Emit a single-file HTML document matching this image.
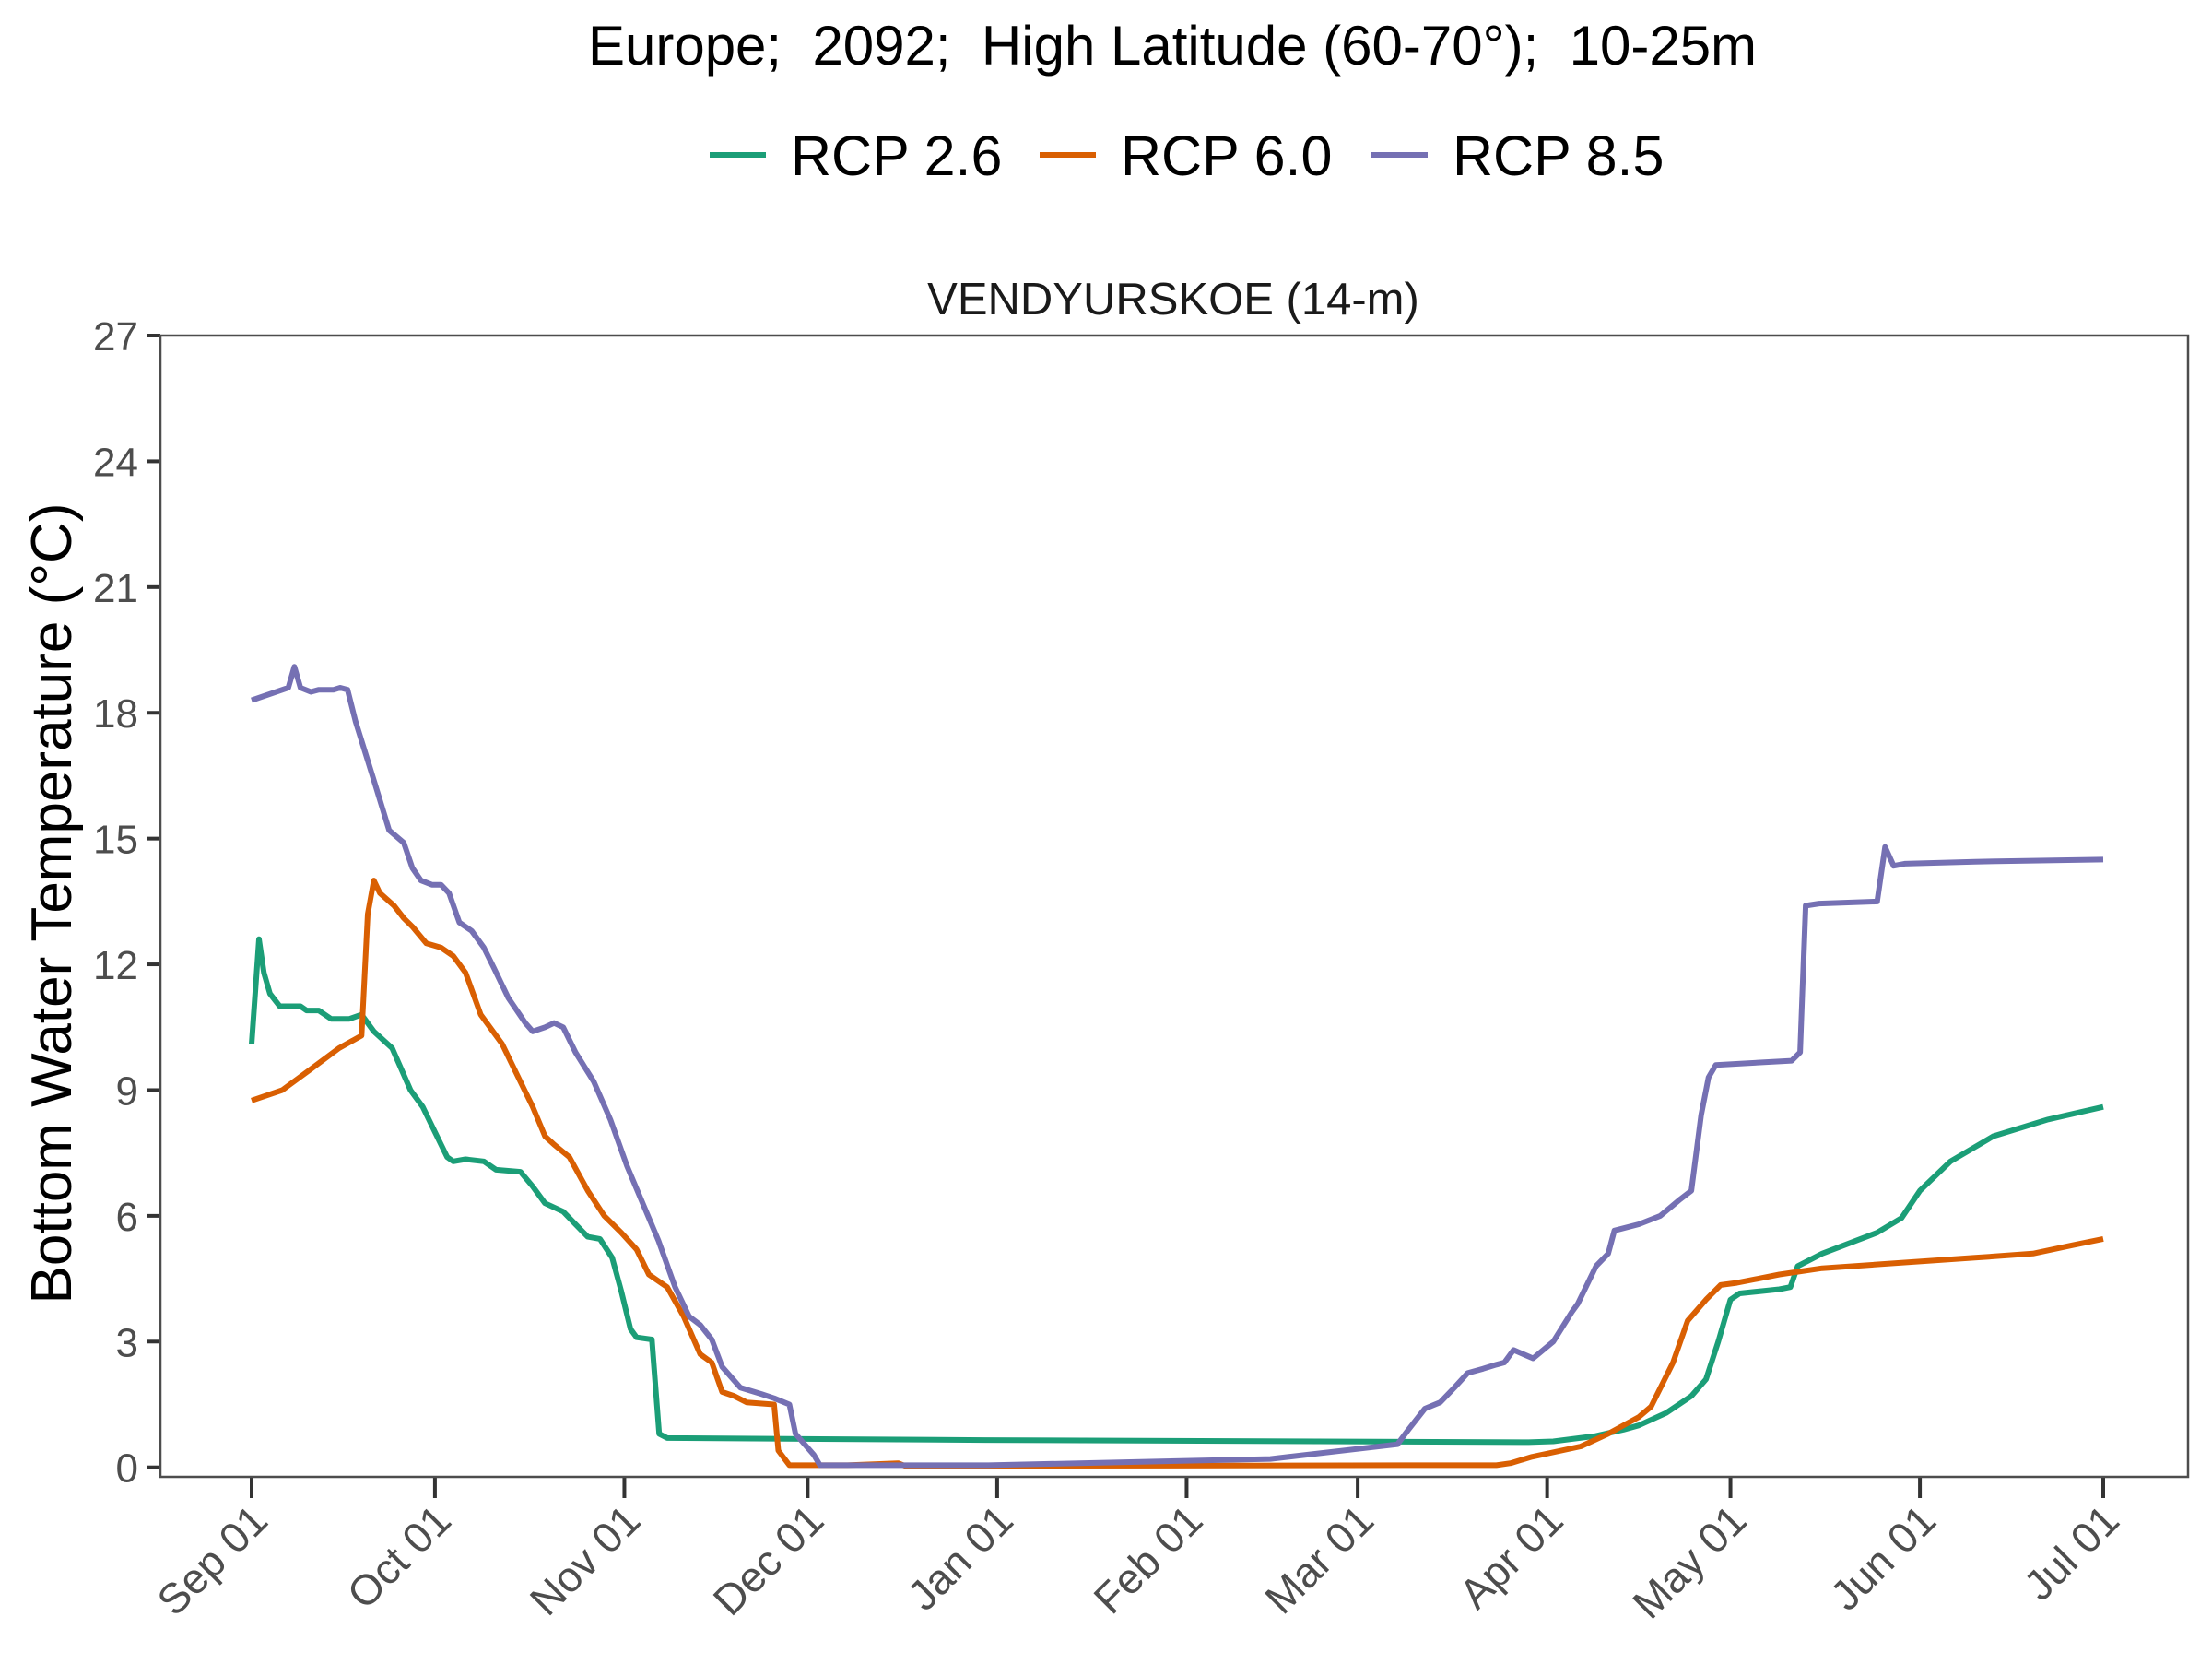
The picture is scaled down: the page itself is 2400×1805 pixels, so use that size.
<!DOCTYPE html>
<html><head><meta charset="utf-8"><style>
html,body{margin:0;padding:0;background:#fff;}
svg text{font-family:"Liberation Sans",Arial,sans-serif;white-space:pre;}
</style></head><body>
<svg id="chart" width="2400" height="1800" viewBox="0 0 2400 1800" xmlns="http://www.w3.org/2000/svg">
<rect width="2400" height="1800" fill="#fff"/>
<text x="1272" y="70" font-size="60" text-anchor="middle" fill="#000" xml:space="preserve">Europe;  2092;  High Latitude (60-70°);  10-25m</text>
<g>
  <g><line x1="770" y1="168" x2="831" y2="168" stroke="#1B9E77" stroke-width="6"/><text x="858" y="190" font-size="61" fill="#000">RCP 2.6</text></g>
  <g><line x1="1128" y1="168" x2="1189" y2="168" stroke="#D95F02" stroke-width="6"/><text x="1216" y="190" font-size="61" fill="#000">RCP 6.0</text></g>
  <g><line x1="1488" y1="168" x2="1549" y2="168" stroke="#7570B3" stroke-width="6"/><text x="1576" y="190" font-size="61" fill="#000">RCP 8.5</text></g>
</g>
<text x="1273" y="341" font-size="49" text-anchor="middle" fill="#1a1a1a">VENDYURSKOE (14-m)</text>
<text transform="translate(77,980) rotate(-90)" font-size="62" text-anchor="middle" fill="#000">Bottom Water Temperature (°C)</text>
<g id="axes"></g>
<g id="series"></g>
<rect x="174" y="364" width="2200" height="1238" fill="none" stroke="#4d4d4d" stroke-width="2.5"/>
</svg>
<script>
const xTickLabels = ["Sep 01","Oct 01","Nov 01","Dec 01","Jan 01","Feb 01","Mar 01","Apr 01","May 01","Jun 01","Jul 01"];
const xTickDays = [0,30,61,91,122,153,181,212,242,273,303];
const yTicks = [0,3,6,9,12,15,18,21,24,27];

const rcp26Days = [0,1.2,2,3,4.6,8,9,11,13,16,18,20,23,26,28,30,32,33,35,38,40,44,46,48,51,53,55,57,59,60.5,62,63,65.5,66.7,68,120,209,213,220,224.5,227,231.5,235.6,238,240,242,243.5,250,251.8,253,257,266,270,273,278,285,294,303];
const rcp26Vals = [10.1,12.6,11.8,11.3,11.0,11.0,10.9,10.9,10.7,10.7,10.8,10.4,10.0,9.0,8.6,8.0,7.4,7.3,7.35,7.3,7.1,7.05,6.7,6.3,6.1,5.8,5.5,5.45,5.0,4.2,3.3,3.1,3.05,0.8,0.7,0.65,0.6,0.62,0.75,0.9,1.0,1.3,1.7,2.1,3.0,4.0,4.15,4.25,4.3,4.8,5.1,5.6,5.95,6.6,7.3,7.9,8.3,8.6];

const rcp60Days = [0,5,9.7,14.3,18,19,20,21,23.3,24.9,26.3,28.6,31,33,35,37.5,41,44,46,48,49.5,52,55,57.7,60.5,63,65,68,70.7,73.4,75.3,77,79,81,85.5,86.2,88,97.5,105.8,107,190,203.7,206,209.5,217.5,222,227,229,232.6,235,238,240.4,243,250,257,282,291.5,298,303];
const rcp60Vals = [8.75,9.0,9.5,10.0,10.3,13.2,14.0,13.7,13.4,13.1,12.9,12.5,12.4,12.2,11.8,10.8,10.1,9.2,8.6,7.9,7.7,7.4,6.6,6.0,5.6,5.2,4.6,4.3,3.6,2.7,2.5,1.8,1.7,1.55,1.5,0.4,0.05,0.05,0.1,0.03,0.05,0.05,0.1,0.25,0.5,0.8,1.2,1.45,2.5,3.5,4.0,4.35,4.4,4.6,4.75,5.0,5.1,5.3,5.45];

const rcp85Days = [0,6,7,8,9.7,11,13.4,14.5,15.7,17,20.2,22.5,24.9,26.3,27.7,29.5,31,32.3,34,36,38,39.7,42,44.8,46,48,49.5,51,53,56,58.7,61.4,64,66.6,69.3,71.6,73.4,75.3,77,80,83.4,85.5,88,89,90.5,92,93,120.6,166.7,187.5,189.3,192,194.5,196.8,199,201.5,203.7,205,206.5,209.7,213,216,217,220,222,223,227,230.5,233.8,235.6,237.2,238.4,239.6,252,253.4,254.3,256.5,266,267.3,268.7,270.5,282,303];
const rcp85Vals = [18.3,18.6,19.1,18.6,18.5,18.55,18.55,18.6,18.55,17.8,16.3,15.2,14.9,14.3,14.0,13.9,13.9,13.7,13.0,12.8,12.4,11.9,11.2,10.6,10.4,10.5,10.6,10.5,9.9,9.2,8.3,7.2,6.3,5.4,4.3,3.6,3.4,3.05,2.4,1.9,1.75,1.65,1.5,0.8,0.55,0.3,0.05,0.05,0.2,0.55,0.9,1.4,1.55,1.9,2.25,2.35,2.45,2.5,2.8,2.6,3.0,3.7,3.9,4.8,5.1,5.65,5.8,6.0,6.4,6.6,8.4,9.3,9.6,9.7,9.9,13.4,13.45,13.5,14.8,14.35,14.4,14.45,14.5];

const NS = "http://www.w3.org/2000/svg";
function xScale(d){ return 273 + d * (2282 - 273) / 303; }
function yScale(v){ return 1591.7 - v * (1591.7 - 364) / 27; }
const axes = document.getElementById('axes');
const series = document.getElementById('series');

yTicks.forEach(function(t){
  const y = yScale(t);
  const ln = document.createElementNS(NS,'line');
  ln.setAttribute('x1',160); ln.setAttribute('x2',174); ln.setAttribute('y1',y); ln.setAttribute('y2',y);
  ln.setAttribute('stroke','#333'); ln.setAttribute('stroke-width','4');
  
  
  axes.appendChild(ln);
  const tx = document.createElementNS(NS,'text');
  tx.setAttribute('x',150); tx.setAttribute('y',y+16); tx.setAttribute('text-anchor','end');
  tx.setAttribute('font-size','44'); tx.setAttribute('fill','#4d4d4d');
  tx.textContent = t;
  
  
  axes.appendChild(tx);
});

xTickDays.forEach(function(d,i){
  const x = xScale(d);
  const ln = document.createElementNS(NS,'line');
  ln.setAttribute('x1',x); ln.setAttribute('x2',x); ln.setAttribute('y1',1602); ln.setAttribute('y2',1625);
  ln.setAttribute('stroke','#333'); ln.setAttribute('stroke-width','4');
  
  
  axes.appendChild(ln);
  const tx = document.createElementNS(NS,'text');
  tx.setAttribute('transform','translate('+(x+20)+',1652) rotate(-45)');
  tx.setAttribute('text-anchor','end');
  tx.setAttribute('font-size','46'); tx.setAttribute('fill','#4d4d4d');
  tx.textContent = xTickLabels[i];
  
  
  axes.appendChild(tx);
});

function drawLine(days, vals, color, name){
  const p = document.createElementNS(NS,'path');
  let d = '';
  for (let i=0;i<days.length;i++){ d += (i?'L':'M') + xScale(days[i]).toFixed(1) + ',' + yScale(vals[i]).toFixed(1); }
  p.setAttribute('d', d);
  p.setAttribute('fill','none'); p.setAttribute('stroke',color); p.setAttribute('stroke-width','6');
  p.setAttribute('stroke-linejoin','round');
  
  
  series.appendChild(p);
}
drawLine(rcp26Days, rcp26Vals, '#1B9E77', 'line-rcp26');
drawLine(rcp60Days, rcp60Vals, '#D95F02', 'line-rcp60');
drawLine(rcp85Days, rcp85Vals, '#7570B3', 'line-rcp85');
</script>
</body></html>
